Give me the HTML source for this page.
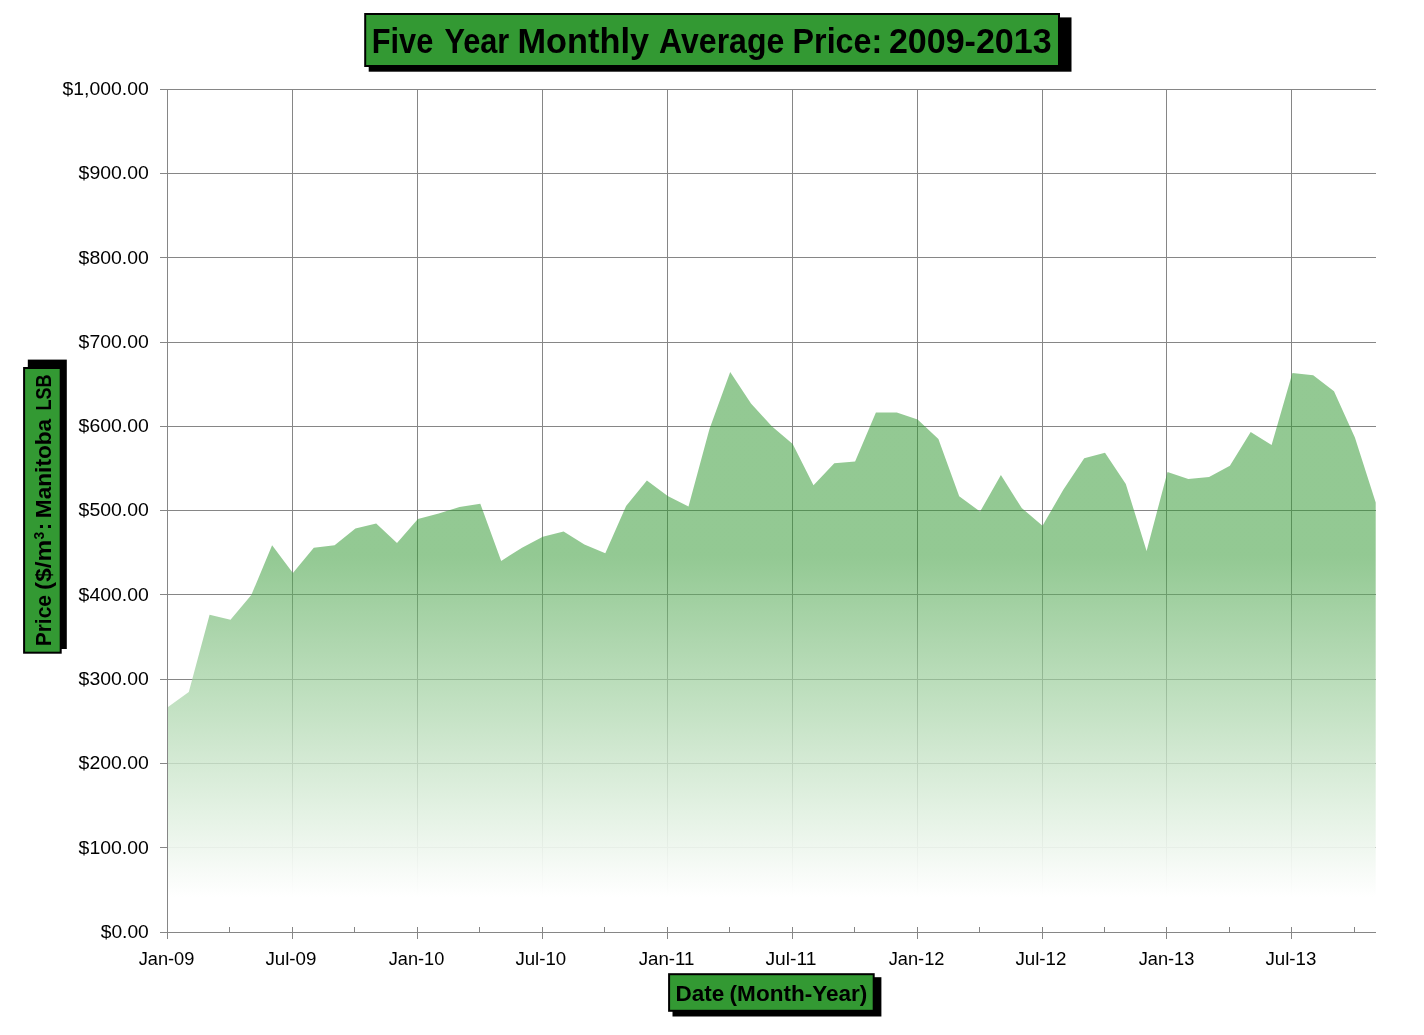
<!DOCTYPE html>
<html lang="en">
<head>
<meta charset="utf-8">
<title>Five Year Monthly Average Price: 2009-2013</title>
<style>
html,body{margin:0;padding:0;background:#fff;}
body{width:1424px;height:1035px;overflow:hidden;}
svg{display:block;}
text{font-family:"Liberation Sans",sans-serif;fill:#000;}
.t{font-size:19px;}
.b{font-weight:bold;}
</style>
</head>
<body>
<svg width="1424" height="1035" viewBox="0 0 1424 1035">
<defs>
<linearGradient id="ag" gradientUnits="userSpaceOnUse" x1="0" y1="372" x2="0" y2="932.5">
<stop offset="0.0000" stop-color="#339933" stop-opacity="0.530"/>
<stop offset="0.3265" stop-color="#339933" stop-opacity="0.530"/>
<stop offset="0.3773" stop-color="#51a851" stop-opacity="0.569"/>
<stop offset="0.4282" stop-color="#6bb56b" stop-opacity="0.608"/>
<stop offset="0.4790" stop-color="#82c082" stop-opacity="0.647"/>
<stop offset="0.5299" stop-color="#96cb96" stop-opacity="0.687"/>
<stop offset="0.5807" stop-color="#a8d4a8" stop-opacity="0.726"/>
<stop offset="0.6316" stop-color="#b8dcb8" stop-opacity="0.765"/>
<stop offset="0.6824" stop-color="#c7e3c7" stop-opacity="0.804"/>
<stop offset="0.7333" stop-color="#d4ead4" stop-opacity="0.843"/>
<stop offset="0.7841" stop-color="#e0f0e0" stop-opacity="0.883"/>
<stop offset="0.8350" stop-color="#ebf5eb" stop-opacity="0.922"/>
<stop offset="0.8858" stop-color="#f6faf6" stop-opacity="0.961"/>
<stop offset="0.9367" stop-color="#ffffff" stop-opacity="1.000"/>
<stop offset="1.0000" stop-color="#ffffff" stop-opacity="1.000"/>
</linearGradient>
</defs>
<rect width="1424" height="1035" fill="#ffffff"/>

<g fill="#868686" shape-rendering="crispEdges">
<rect x="160" y="932" width="1216" height="1"/>
<rect x="160" y="847" width="1216" height="1"/>
<rect x="160" y="763" width="1216" height="1"/>
<rect x="160" y="679" width="1216" height="1"/>
<rect x="160" y="594" width="1216" height="1"/>
<rect x="160" y="510" width="1216" height="1"/>
<rect x="160" y="426" width="1216" height="1"/>
<rect x="160" y="342" width="1216" height="1"/>
<rect x="160" y="257" width="1216" height="1"/>
<rect x="160" y="173" width="1216" height="1"/>
<rect x="160" y="89" width="1216" height="1"/>
<rect x="167" y="89" width="1" height="850"/>
<rect x="292" y="89" width="1" height="850"/>
<rect x="417" y="89" width="1" height="850"/>
<rect x="542" y="89" width="1" height="850"/>
<rect x="667" y="89" width="1" height="850"/>
<rect x="792" y="89" width="1" height="850"/>
<rect x="917" y="89" width="1" height="850"/>
<rect x="1042" y="89" width="1" height="850"/>
<rect x="1166" y="89" width="1" height="850"/>
<rect x="1291" y="89" width="1" height="850"/>
</g>
<path d="M168.0 932.5 L168.0 707.1 L188.8 692.0 L209.6 614.8 L230.5 619.7 L251.3 595.1 L272.1 545.3 L292.9 573.1 L313.8 547.8 L334.6 545.3 L355.4 528.4 L376.2 523.6 L397.0 542.9 L417.9 519.1 L438.7 513.6 L459.5 507.0 L480.3 503.7 L501.2 560.9 L522.0 547.7 L542.8 536.7 L563.6 531.5 L584.4 544.5 L605.3 553.2 L626.1 506.0 L646.9 480.6 L667.7 495.9 L688.5 506.5 L709.4 429.3 L730.2 372.0 L751.0 403.4 L771.8 426.3 L792.7 443.9 L813.5 485.3 L834.3 463.2 L855.1 461.4 L875.9 412.5 L896.8 412.5 L917.6 419.5 L938.4 438.9 L959.2 496.2 L980.1 511.6 L1000.9 475.1 L1021.7 508.0 L1042.5 525.8 L1063.3 489.7 L1084.2 458.3 L1105.0 452.8 L1125.8 484.0 L1146.6 551.0 L1167.5 472.0 L1188.3 479.1 L1209.1 477.1 L1229.9 465.8 L1250.7 432.0 L1271.6 444.9 L1292.4 373.0 L1313.2 375.2 L1334.0 391.3 L1354.9 437.4 L1375.7 502.4 L1375.7 932.5 Z" fill="url(#ag)"/>
<g fill="#868686" shape-rendering="crispEdges">
<rect x="160" y="932" width="1216" height="1"/>
<rect x="167" y="89" width="1" height="850"/>
<rect x="229" y="927" width="1" height="5"/>
<rect x="354" y="927" width="1" height="5"/>
<rect x="479" y="927" width="1" height="5"/>
<rect x="604" y="927" width="1" height="5"/>
<rect x="729" y="927" width="1" height="5"/>
<rect x="854" y="927" width="1" height="5"/>
<rect x="979" y="927" width="1" height="5"/>
<rect x="1104" y="927" width="1" height="5"/>
<rect x="1229" y="927" width="1" height="5"/>
<rect x="1354" y="927" width="1" height="5"/>
<rect x="167" y="927" width="1" height="12"/>
<rect x="292" y="927" width="1" height="12"/>
<rect x="417" y="927" width="1" height="12"/>
<rect x="542" y="927" width="1" height="12"/>
<rect x="667" y="927" width="1" height="12"/>
<rect x="792" y="927" width="1" height="12"/>
<rect x="917" y="927" width="1" height="12"/>
<rect x="1042" y="927" width="1" height="12"/>
<rect x="1166" y="927" width="1" height="12"/>
<rect x="1291" y="927" width="1" height="12"/>
</g>
<g class="t">
<text x="100.7" y="937.9" textLength="48.1" lengthAdjust="spacingAndGlyphs">$0.00</text>
<text x="78.6" y="853.6" textLength="70.2" lengthAdjust="spacingAndGlyphs">$100.00</text>
<text x="78.6" y="769.3" textLength="70.2" lengthAdjust="spacingAndGlyphs">$200.00</text>
<text x="78.6" y="685.0" textLength="70.2" lengthAdjust="spacingAndGlyphs">$300.00</text>
<text x="78.6" y="600.7" textLength="70.2" lengthAdjust="spacingAndGlyphs">$400.00</text>
<text x="78.6" y="516.4" textLength="70.2" lengthAdjust="spacingAndGlyphs">$500.00</text>
<text x="78.6" y="432.1" textLength="70.2" lengthAdjust="spacingAndGlyphs">$600.00</text>
<text x="78.6" y="347.8" textLength="70.2" lengthAdjust="spacingAndGlyphs">$700.00</text>
<text x="78.6" y="263.5" textLength="70.2" lengthAdjust="spacingAndGlyphs">$800.00</text>
<text x="78.6" y="179.2" textLength="70.2" lengthAdjust="spacingAndGlyphs">$900.00</text>
<text x="62.5" y="94.9" textLength="86.3" lengthAdjust="spacingAndGlyphs">$1,000.00</text>
</g>
<g class="t">
<text x="138.7" y="964.9" textLength="55.7" lengthAdjust="spacingAndGlyphs">Jan-09</text>
<text x="265.4" y="964.9" textLength="51.0" lengthAdjust="spacingAndGlyphs">Jul-09</text>
<text x="388.7" y="964.9" textLength="55.6" lengthAdjust="spacingAndGlyphs">Jan-10</text>
<text x="515.4" y="964.9" textLength="50.8" lengthAdjust="spacingAndGlyphs">Jul-10</text>
<text x="638.7" y="964.9" textLength="55.8" lengthAdjust="spacingAndGlyphs">Jan-11</text>
<text x="765.4" y="964.9" textLength="51.0" lengthAdjust="spacingAndGlyphs">Jul-11</text>
<text x="888.7" y="964.9" textLength="55.8" lengthAdjust="spacingAndGlyphs">Jan-12</text>
<text x="1015.4" y="964.9" textLength="51.0" lengthAdjust="spacingAndGlyphs">Jul-12</text>
<text x="1138.7" y="964.9" textLength="55.7" lengthAdjust="spacingAndGlyphs">Jan-13</text>
<text x="1265.4" y="964.9" textLength="50.9" lengthAdjust="spacingAndGlyphs">Jul-13</text>
</g>
<rect x="368.7" y="17.4" width="702.8" height="54.3" fill="#000"/>
<rect x="365.2" y="14" width="693.8" height="52" fill="#339933" stroke="#000" stroke-width="2"/>
<text class="b" y="52.75" font-size="34.2"><tspan x="371.8" textLength="61.5" lengthAdjust="spacingAndGlyphs">Five</tspan> <tspan x="444.4" textLength="64.9" lengthAdjust="spacingAndGlyphs">Year</tspan> <tspan x="517.5" textLength="131.6" lengthAdjust="spacingAndGlyphs">Monthly</tspan> <tspan x="659.1" textLength="125.2" lengthAdjust="spacingAndGlyphs">Average</tspan> <tspan x="792.6" textLength="89.6" lengthAdjust="spacingAndGlyphs">Price:</tspan> <tspan x="888.9" textLength="162.7" lengthAdjust="spacingAndGlyphs">2009-2013</tspan></text>
<rect x="672.5" y="977.2" width="208.9" height="39.3" fill="#000"/>
<rect x="669.1" y="974.2" width="204.6" height="36.6" fill="#339933" stroke="#000" stroke-width="2"/>
<text class="b" y="1000.6" font-size="21.6"><tspan x="675.5" textLength="48.8" lengthAdjust="spacingAndGlyphs">Date</tspan> <tspan x="729.6" textLength="137.8" lengthAdjust="spacingAndGlyphs">(Month-Year)</tspan></text>
<rect x="27.8" y="359.6" width="39" height="289.4" fill="#000"/>
<rect x="24.1" y="368" width="36.6" height="284.7" fill="#339933" stroke="#000" stroke-width="2"/>
<text class="b" transform="translate(51.4 646.7) rotate(-90)" font-size="21.6"><tspan x="0.4" textLength="51.3" lengthAdjust="spacingAndGlyphs">Price</tspan> <tspan x="56.8" textLength="50.1" lengthAdjust="spacingAndGlyphs">($/m</tspan><tspan x="107.3" dy="-7.8" font-size="15.4" textLength="7.7" lengthAdjust="spacingAndGlyphs">3</tspan><tspan dy="7.8" x="116.8" textLength="7.1" lengthAdjust="spacingAndGlyphs">:</tspan> <tspan x="128.5" textLength="99.4" lengthAdjust="spacingAndGlyphs">Manitoba</tspan> <tspan x="236.2" textLength="36.1" lengthAdjust="spacingAndGlyphs">LSB</tspan></text>
</svg>
</body>
</html>
